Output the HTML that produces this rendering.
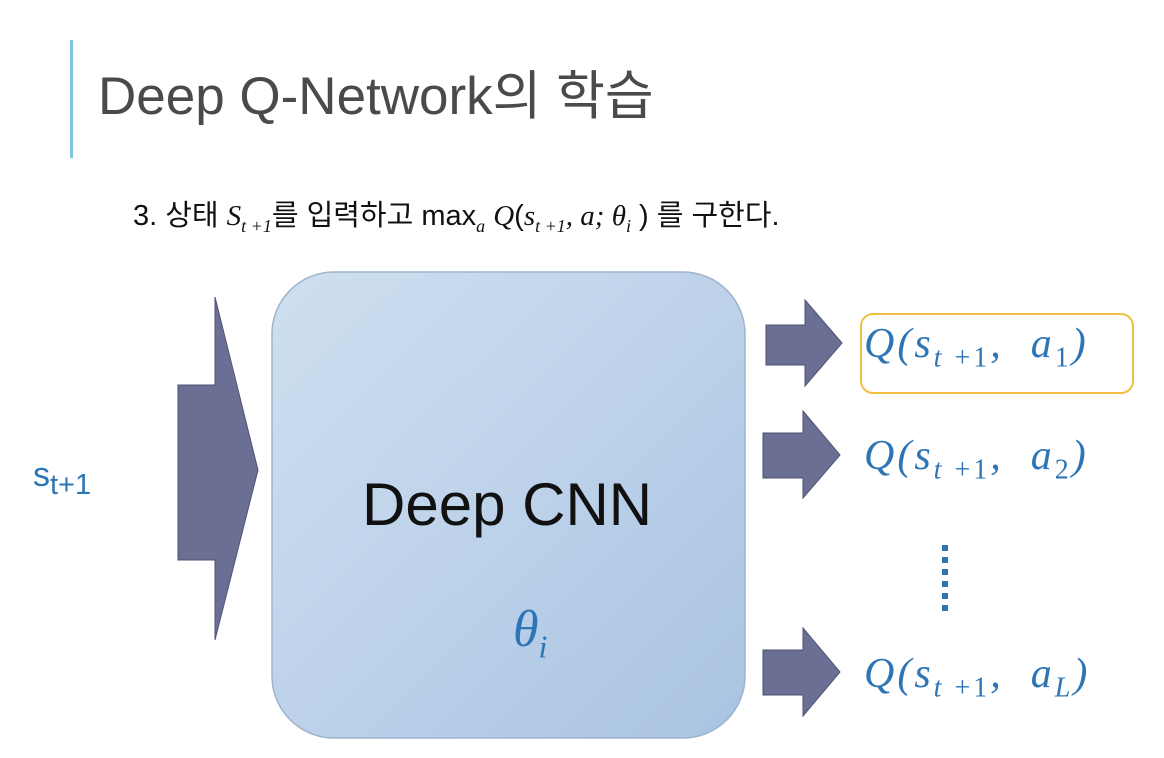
<!DOCTYPE html>
<html><head><meta charset="utf-8"><style>
body{margin:0;width:1164px;height:758px;background:#fff;position:relative;overflow:hidden;font-family:"Liberation Sans","Noto Sans CJK KR",sans-serif}
.a{position:absolute}
.q{position:absolute;left:864px;font-family:"Liberation Serif",serif;font-style:italic;font-size:42px;color:#2e75b6;white-space:nowrap;letter-spacing:3px}
.q sub{font-size:28px;font-style:normal}
.q sub i{font-style:italic}
</style></head><body>
<div class="a" style="left:70px;top:40px;width:3px;height:118px;background:#7fc3dc"></div>
<div class="a" style="left:98px;top:54px;font-size:53px;color:#4a4a4a;white-space:nowrap">Deep Q-Network의 학습</div>
<div class="a" style="left:133px;top:192px;font-size:29px;color:#111;white-space:nowrap">3. 상태 <i style="font-family:'Liberation Serif',serif">S<sub style="font-size:18px">t +1</sub></i>를 입력하고 max<sub style="font-size:18px;font-family:'Liberation Serif',serif"><i>a</i></sub> <i style="font-family:'Liberation Serif',serif">Q</i>(<i style="font-family:'Liberation Serif',serif">s<sub style="font-size:18px">t +1</sub>, a; θ<sub style="font-size:18px">i</sub></i> ) 를 구한다.</div>
<svg class="a" style="left:0;top:0" width="1164" height="758">
<defs><linearGradient id="g" x1="0" y1="0" x2="1" y2="1"><stop offset="0" stop-color="#cfdff0"/><stop offset="0.5" stop-color="#bdd2ea"/><stop offset="1" stop-color="#a9c3e2"/></linearGradient></defs>
<polygon points="178,385 215,385 215,297 258,470 215,640 215,560 178,560" fill="#6b6f93" stroke="#4e5275" stroke-width="1"/>
<rect x="272" y="272" width="473" height="466" rx="62" fill="url(#g)" stroke="#9fb4cc" stroke-width="1.5"/>
<polygon points="766,325 805,325 805,300 842,343 805,386 805,365 766,365" fill="#6b6f93" stroke="#4e5275"/>
<polygon points="763,433 803,433 803,411 840,455 803,498 803,478 763,478" fill="#6b6f93" stroke="#4e5275"/>
<polygon points="763,650 803,650 803,628 840,672 803,716 803,695 763,695" fill="#6b6f93" stroke="#4e5275"/>
<rect x="861" y="314" width="272" height="79" rx="12" fill="none" stroke="#f2c040" stroke-width="2"/>
<g fill="#2e75b6"><rect x="942" y="545" width="6" height="6"/><rect x="942" y="557" width="6" height="6"/><rect x="942" y="569" width="6" height="6"/><rect x="942" y="581" width="6" height="6"/><rect x="942" y="593" width="6" height="6"/><rect x="942" y="605" width="6" height="6"/></g>
</svg>
<div class="a" style="left:362px;top:470px;font-size:60px;color:#111;white-space:nowrap">Deep CNN</div>
<div class="a" style="left:513px;top:600px;font-family:'Liberation Serif',serif;font-style:italic;font-size:52px;color:#2e75b6">θ<sub style="font-size:32px">i</sub></div>
<div class="a" style="left:33px;top:456px;font-size:34px;color:#2e75b6">s<sub style="font-size:29px">t+1</sub></div>
<div class="q" style="top:320px">Q(s<sub><i>t</i> +1</sub>,&nbsp; a<sub>1</sub>)</div>
<div class="q" style="top:432px">Q(s<sub><i>t</i> +1</sub>,&nbsp; a<sub>2</sub>)</div>
<div class="q" style="top:650px">Q(s<sub><i>t</i> +1</sub>,&nbsp; a<sub><i>L</i></sub>)</div>
</body></html>
